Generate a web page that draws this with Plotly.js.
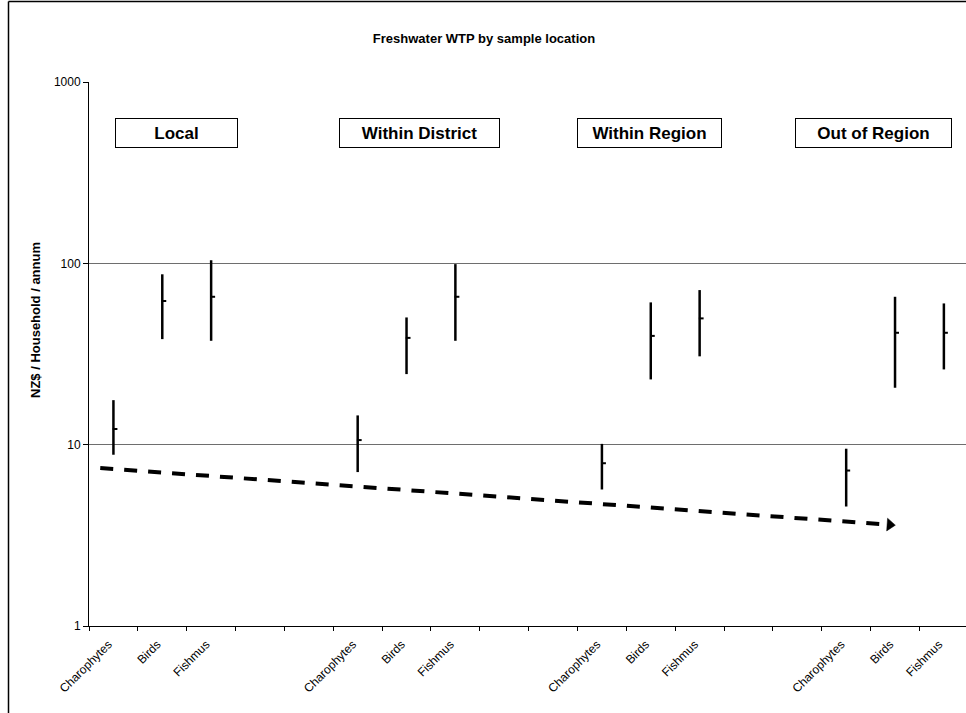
<!DOCTYPE html>
<html>
<head>
<meta charset="utf-8">
<script src="https://cdn.plot.ly/plotly-3.0.1.min.js"></script>
<style>
  html, body { margin: 0; padding: 0; background: #ffffff; overflow: hidden; }
  #chart { width: 966px; height: 713px; }
</style>
</head>
<body>
<div id="chart"></div>
<script>
// ---- data ----
const categories = ["Charophytes", "Birds", "Fishmus", "", "",
                    "Charophytes", "Birds", "Fishmus", "", "",
                    "Charophytes", "Birds", "Fishmus", "", "",
                    "Charophytes", "Birds", "Fishmus"];
const highValues = [17.6, 87, 104, null, null,
                    14.5, 50.3, 99, null, null,
                    10.1, 60.9, 71.2, null, null,
                    9.5, 65.4, 60.1];
const meanValues = [12.2, 62, 65.4, null, null,
                    10.6, 38.8, 65.4, null, null,
                    7.9, 39.8, 49.7, null, null,
                    7.2, 41.4, 41.4];
const lowValues  = [8.8, 38.2, 37.4, null, null,
                    7.06, 24.5, 37.4, null, null,
                    5.66, 22.9, 30.7, null, null,
                    4.56, 20.6, 26.0];
const groupLabels = ["Local", "Within District", "Within Region", "Out of Region"];
const yTickVals = [1, 10, 100, 1000];
const yTickText = ["1", "10", "100", "1000"];
// trend arrow: [category position, value]
const trendStart = [-0.27, 7.43];
const trendEnd   = [16.0, 3.60];

// ---- build traces ----
const FONT = "Liberation Sans, Arial, sans-serif";
const idx = categories.map((c, i) => i);

const barX = [], barY = [];
idx.forEach(i => {
  if (highValues[i] !== null) {
    barX.push(i, i, null);
    barY.push(lowValues[i], highValues[i], null);
  }
});

const meanOffset = 1.6 / 48.85;  // nub drawn just right of the bar
const meanX = [], meanY = [];
idx.forEach(i => {
  if (meanValues[i] !== null) { meanX.push(i + meanOffset); meanY.push(meanValues[i]); }
});

// trend line in (x, log y) space
function along(t) {
  const x = trendStart[0] + (trendEnd[0] - trendStart[0]) * t;
  const ly = Math.log10(trendStart[1]) + (Math.log10(trendEnd[1]) - Math.log10(trendStart[1])) * t;
  return [x, Math.pow(10, ly)];
}
const lineEnd = along(0.986);
const headPos = along(0.9935);

const traces = [
  {
    x: barX, y: barY, type: "scatter", mode: "lines",
    line: { color: "#000000", width: 2.5 }, connectgaps: false,
    hoverinfo: "skip", showlegend: false
  },
  {
    x: meanX, y: meanY, type: "scatter", mode: "markers", xaxis: "x2",
    marker: { symbol: "line-ew", size: 3.4, color: "#000000", line: { color: "#000000", width: 2 } },
    hoverinfo: "skip", showlegend: false
  },
  {
    x: [trendStart[0], lineEnd[0]], y: [trendStart[1], lineEnd[1]],
    type: "scatter", mode: "lines",
    line: { color: "#000000", width: 4, dash: "13px,11px" },
    hoverinfo: "skip", showlegend: false
  },
  {
    x: [trendStart[0], headPos[0]], y: [trendStart[1], headPos[1]],
    type: "scatter", mode: "markers",
    marker: { symbol: "triangle-up", size: [0, 11], color: "#000000", opacity: 1, angleref: "previous",
              line: { width: 0.5, color: "#000000" } },
    hoverinfo: "skip", showlegend: false
  }
];

// ---- layout ----
const L = 89, PW = 877, T = 82, PH = 544;
const pxX = px => (px - L) / PW;
const pxY = py => (T + PH - py) / PH;

const boxSpecs = [
  { cx: 176.5, w: 123 }, { cx: 419.5, w: 161 }, { cx: 649.5, w: 145 }, { cx: 873.5, w: 157 }
];
const annotations = groupLabels.map((g, k) => ({
  text: "<b>" + g + "</b>",
  xref: "paper", yref: "paper",
  x: pxX(boxSpecs[k].cx), y: pxY(133.3),
  xanchor: "center", yanchor: "middle",
  showarrow: false,
  width: boxSpecs[k].w - 4, height: 26,
  bordercolor: "#000000", borderwidth: 1, borderpad: 1, bgcolor: "#ffffff",
  font: { family: FONT, size: 17, color: "#000000" }
}));
annotations.push({
  text: "<b>NZ$ / Household / annum</b>",
  xref: "paper", yref: "paper",
  x: pxX(35), y: pxY(320), textangle: -90,
  xanchor: "center", yanchor: "middle", showarrow: false,
  font: { family: FONT, size: 13, color: "#000000" }
});

const xr = [-0.5, -0.5 + PW / 48.85];
const boundaries = [];
for (let b = -0.5; b <= 17.6; b += 1) boundaries.push(b);
const labelShift = 5 / 48.85;

const layout = {
  width: 966, height: 713,
  margin: { l: L, r: 0, t: T, b: 713 - T - PH, pad: 0 },
  paper_bgcolor: "#ffffff", plot_bgcolor: "#ffffff",
  showlegend: false,
  font: { family: FONT, color: "#000000" },
  title: {
    text: "<b>Freshwater WTP by sample location</b>",
    font: { family: FONT, size: 13, color: "#000000" },
    xref: "container", yref: "container",
    x: 484 / 966, y: 1 - 38 / 713, xanchor: "center", yanchor: "middle"
  },
  xaxis: {
    type: "linear", range: xr, fixedrange: true,
    tickmode: "array", tickvals: boundaries, ticktext: boundaries.map(() => ""),
    ticks: "outside", ticklen: 4, tickwidth: 1, tickcolor: "#000000",
    showgrid: false, zeroline: false,
    showline: true, linecolor: "#000000", linewidth: 1
  },
  xaxis2: {
    type: "linear", range: xr, overlaying: "x", anchor: "y", side: "bottom", fixedrange: true,
    tickmode: "array", tickvals: idx.map(i => i - labelShift), ticktext: categories,
    ticks: "", tickangle: -45, ticklabelstandoff: 8,
    tickfont: { family: FONT, size: 12, color: "#000000" },
    showgrid: false, zeroline: false, showline: false
  },
  yaxis: {
    type: "log", range: [0, 3], fixedrange: true,
    tickmode: "array", tickvals: yTickVals, ticktext: yTickText,
    ticks: "outside", ticklen: 5, tickwidth: 1, tickcolor: "#000000",
    tickfont: { family: FONT, size: 12, color: "#000000" },
    showgrid: true, gridcolor: "#6e6e6e", gridwidth: 1,
    zeroline: false, showline: true, linecolor: "#000000", linewidth: 1
  },
  shapes: [
    { type: "line", xref: "paper", yref: "paper", x0: pxX(8.5), x1: pxX(8.5), y0: pxY(1.5), y1: pxY(760),
      line: { color: "#000000", width: 1.5 } },
    { type: "line", xref: "paper", yref: "paper", x0: pxX(8.5), x1: pxX(1000), y0: pxY(1.5), y1: pxY(1.5),
      line: { color: "#000000", width: 1.5 } }
  ],
  annotations: annotations
};

Plotly.newPlot("chart", traces, layout, { displayModeBar: false, staticPlot: true });
</script>
</body>
</html>
